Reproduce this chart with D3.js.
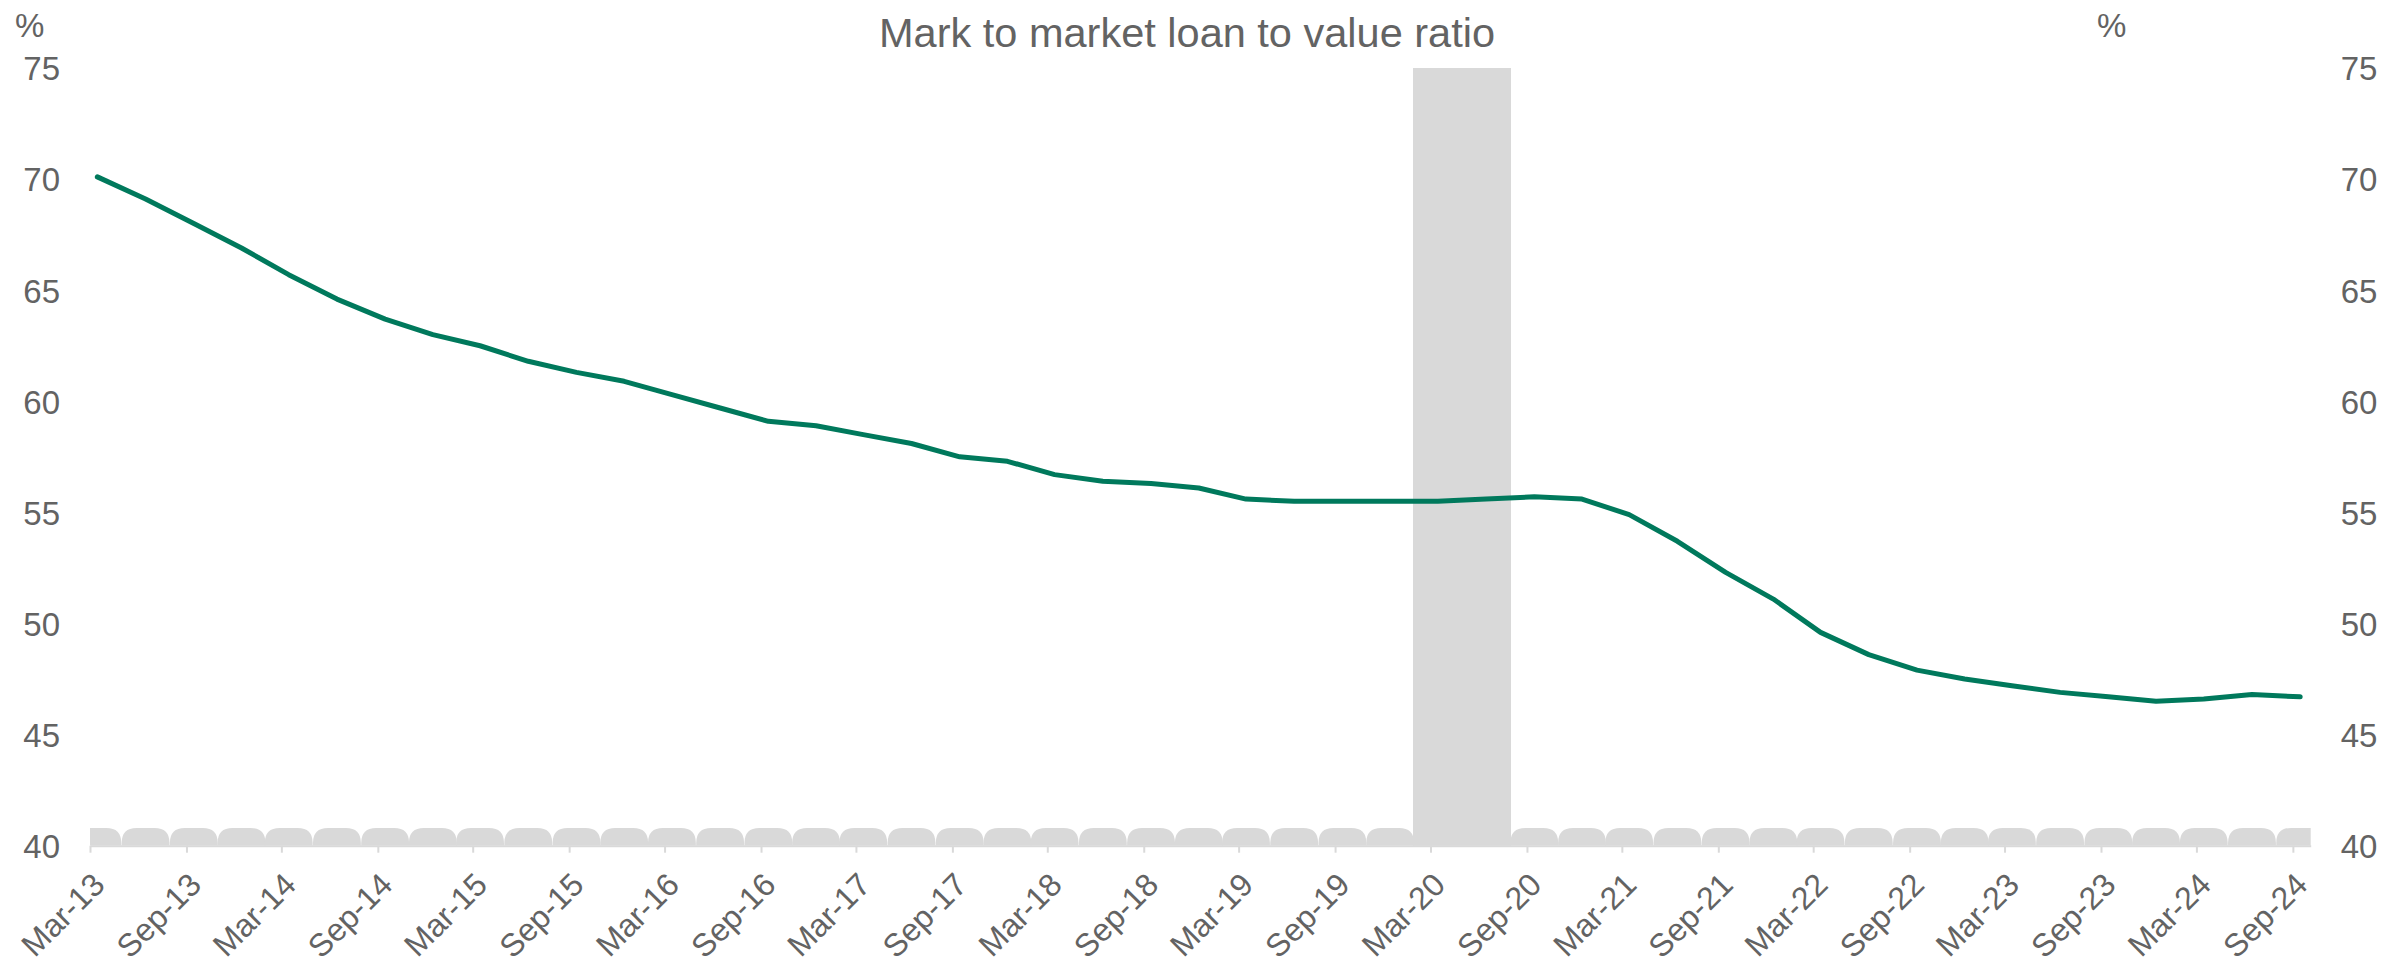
<!DOCTYPE html>
<html>
<head>
<meta charset="utf-8">
<script src="https://cdn.jsdelivr.net/npm/d3@7/dist/d3.min.js"></script>
<style>
  html, body { margin: 0; padding: 0; background: #ffffff; }
  svg { display: block; font-family: "Liberation Sans", Arial, sans-serif; }
</style>
</head>
<body>
<svg id="chart" width="2384" height="966"></svg>
<script>
// Quarterly observations
const quarters = [
  "Mar-13", "Jun-13", "Sep-13", "Dec-13",
  "Mar-14", "Jun-14", "Sep-14", "Dec-14",
  "Mar-15", "Jun-15", "Sep-15", "Dec-15",
  "Mar-16", "Jun-16", "Sep-16", "Dec-16",
  "Mar-17", "Jun-17", "Sep-17", "Dec-17",
  "Mar-18", "Jun-18", "Sep-18", "Dec-18",
  "Mar-19", "Jun-19", "Sep-19", "Dec-19",
  "Mar-20", "Jun-20", "Sep-20", "Dec-20",
  "Mar-21", "Jun-21", "Sep-21", "Dec-21",
  "Mar-22", "Jun-22", "Sep-22", "Dec-22",
  "Mar-23", "Jun-23", "Sep-23", "Dec-23",
  "Mar-24", "Jun-24", "Sep-24"
];

// Mark to market loan to value ratio, %
const ltvRatio = [
  70.1, 69.1, 68.0, 66.9, 65.7, 64.6, 63.7, 63.0,
  62.5, 61.8, 61.3, 60.9, 60.3, 59.7, 59.1, 58.9,
  58.5, 58.1, 57.5, 57.3, 56.7, 56.4, 56.3, 56.1,
  55.6, 55.5, 55.5, 55.5, 55.5, 55.6, 55.7, 55.6,
  54.9, 53.7, 52.3, 51.1, 49.6, 48.6, 47.9, 47.5,
  47.2, 46.9, 46.7, 46.5, 46.6, 46.8, 46.7
];

// Grey background columns (full height for the two pandemic quarters)
const bandSeries = [
  40.8, 40.8, 40.8, 40.8, 40.8, 40.8, 40.8, 40.8,
  40.8, 40.8, 40.8, 40.8, 40.8, 40.8, 40.8, 40.8,
  40.8, 40.8, 40.8, 40.8, 40.8, 40.8, 40.8, 40.8,
  40.8, 40.8, 40.8, 40.8, 75, 75, 40.8, 40.8,
  40.8, 40.8, 40.8, 40.8, 40.8, 40.8, 40.8, 40.8,
  40.8, 40.8, 40.8, 40.8, 40.8, 40.8, 40.8
];

const xTickLabels = [
  "Mar-13", "Sep-13", "Mar-14", "Sep-14", "Mar-15", "Sep-15",
  "Mar-16", "Sep-16", "Mar-17", "Sep-17", "Mar-18", "Sep-18",
  "Mar-19", "Sep-19", "Mar-20", "Sep-20", "Mar-21", "Sep-21",
  "Mar-22", "Sep-22", "Mar-23", "Sep-23", "Mar-24", "Sep-24"
];
const yTicks = [40, 45, 50, 55, 60, 65, 70, 75];

const titleText = "Mark to market loan to value ratio";
const unitLabel = "%";

// ---- layout ----
const plotLeft = 90, plotRight = 2310.7, plotTop = 68, plotBottom = 845.7;
const textColor = "#636363";
const lineColor = "#00795c";
const greyFill = "#d9d9d9";

const parseQ = d3.timeParse("%b-%y");
const fmtQ = d3.timeFormat("%b-%y");

// observations sit mid-month; tick marks at the start of the month
const obsDate = q => d3.timeDay.offset(parseQ(q), 14);
const data = quarters.map((q, i) => ({ date: obsDate(q), value: ltvRatio[i], band: bandSeries[i] }));

const x = d3.scaleTime()
  .domain([parseQ("Mar-13"), new Date(2024, 9, 5)])
  .range([plotLeft, plotRight]);

const y = d3.scaleLinear()
  .domain([40, 75])
  .range([plotBottom, plotTop]);

const svg = d3.select("#chart");

svg.append("defs").append("clipPath").attr("id", "plotClip")
  .append("rect")
  .attr("x", plotLeft).attr("y", plotTop - 2)
  .attr("width", plotRight - plotLeft).attr("height", plotBottom - plotTop + 2);

// ---- background columns ----
const step = (x(data[data.length - 1].date) - x(data[0].date)) / (data.length - 1);
const radius = 15;
const isFull = d => d.band >= y.domain()[1];

function columnPath(d) {
  const x0 = x(d.date) - step / 2, x1 = x(d.date) + step / 2;
  const y0 = y(d.band), yb = y(40);
  const h = yb - y0;
  if (isFull(d)) {
    return `M${x0 - 0.5},${yb}V${y0}H${x1 + 0.5}V${yb}Z`;
  }
  const r = Math.min(radius, h);
  return `M${x0},${yb}V${y0 + r}Q${x0},${y0} ${x0 + r},${y0}H${x1 - r}Q${x1},${y0} ${x1},${y0 + r}V${yb}Z`;
}

svg.append("g")
  .attr("clip-path", "url(#plotClip)")
  .selectAll("path")
  .data(data)
  .join("path")
  .attr("d", columnPath)
  .attr("fill", greyFill)
  .attr("shape-rendering", d => isFull(d) ? "crispEdges" : null);

// ---- x axis ----
const xAxis = d3.axisBottom(x)
  .tickValues(xTickLabels.map(parseQ))
  .tickFormat(fmtQ)
  .tickSize(7)
  .tickSizeOuter(0);

const gx = svg.append("g")
  .attr("transform", `translate(0,${plotBottom})`)
  .call(xAxis);

gx.select(".domain").attr("stroke", greyFill).attr("stroke-width", 2);
gx.selectAll(".tick line").attr("stroke", greyFill).attr("stroke-width", 2);
gx.selectAll(".tick text")
  .attr("x", 0).attr("y", 0).attr("dy", 0)
  .attr("transform", "translate(16,41) rotate(-45)")
  .attr("text-anchor", "end")
  .attr("fill", textColor)
  .style("font-size", "32px")
  .style("font-family", "'Liberation Sans', Arial, sans-serif");

// ---- y axes ----
function styleY(g) {
  g.select(".domain").remove();
  g.selectAll(".tick line").remove();
  g.selectAll(".tick text")
    .attr("fill", textColor)
    .attr("dy", "0.36em")
    .style("font-size", "33px")
    .style("font-family", "'Liberation Sans', Arial, sans-serif");
}

svg.append("g")
  .attr("transform", `translate(${plotLeft},0)`)
  .call(d3.axisLeft(y).tickValues(yTicks).tickSize(0).tickPadding(30))
  .call(styleY);

svg.append("g")
  .attr("transform", `translate(${plotRight},0)`)
  .call(d3.axisRight(y).tickValues(yTicks).tickSize(0).tickPadding(30))
  .call(styleY);

// ---- line ----
const line = d3.line()
  .x(d => x(d.date))
  .y(d => y(d.value));

svg.append("path")
  .datum(data)
  .attr("d", line)
  .attr("fill", "none")
  .attr("stroke", lineColor)
  .attr("stroke-width", 5)
  .attr("stroke-linejoin", "round")
  .attr("stroke-linecap", "round");

// ---- title and unit labels ----
svg.append("text")
  .attr("x", 1187).attr("y", 47)
  .attr("text-anchor", "middle")
  .attr("textLength", 616)
  .attr("lengthAdjust", "spacingAndGlyphs")
  .attr("fill", textColor)
  .style("font-size", "41px")
  .text(titleText);

svg.append("text")
  .attr("x", 15).attr("y", 36.7)
  .attr("fill", textColor)
  .style("font-size", "33px")
  .text(unitLabel);

svg.append("text")
  .attr("x", 2097).attr("y", 36.7)
  .attr("fill", textColor)
  .style("font-size", "33px")
  .text(unitLabel);
</script>
</body>
</html>
